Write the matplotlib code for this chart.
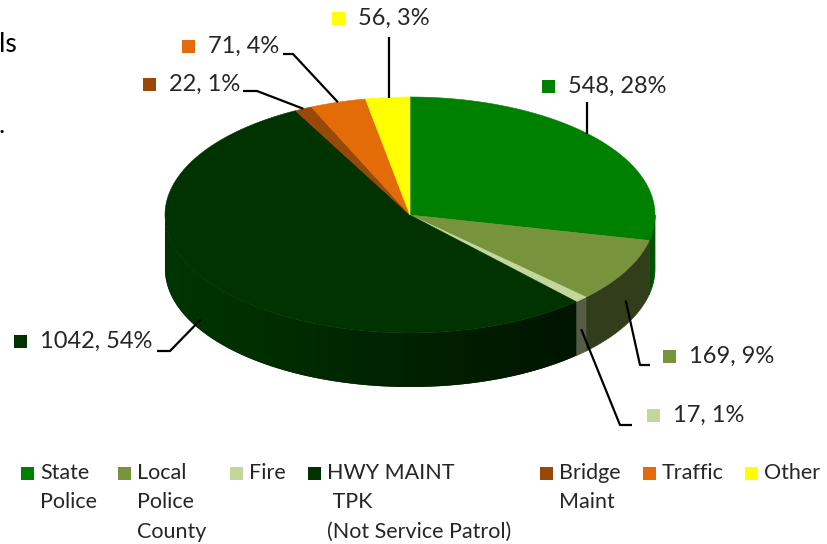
import numpy as np
import matplotlib.pyplot as plt
from matplotlib.patches import Polygon, Rectangle
from matplotlib.colors import to_rgb

# data
categories = ["State Police", "Local Police County", "Fire", "HWY MAINT TPK (Not Service Patrol)",
              "Bridge Maint", "Traffic", "Other"]
legend_lines = [["State", "Police"], ["Local", "Police", "County"], ["Fire"],
                ["HWY MAINT", " TPK", "(Not Service Patrol)"], ["Bridge", "Maint"],
                ["Traffic"], ["Other"]]
values = [548, 169, 17, 1042, 22, 71, 56]
top_colors = ["#008000", "#77933C", "#C3D69B", "#003300", "#984807", "#E36C09", "#FFFF00"]
side_colors = ["#005200", "#323E1B", "#555E45", "#002700", "#5E2C04", "#8C4205", "#9E9E00"]

plt.rcParams['font.family'] = ['Lato', 'DejaVu Sans']
txt_color = "#262626"

fig = plt.figure(figsize=(8.27, 5.44), dpi=100)
ax = fig.add_axes([0, 0, 1, 1])
ax.set_xlim(0, 827)
ax.set_ylim(544, 0)
ax.axis("off")

# pie geometry (pixel coords)
cx, cy, a, b, depth = 410, 215, 245, 118, 54


def ept(t):
    r = np.radians(t)
    return cx + a * np.cos(r), cy - b * np.sin(r)


total = sum(values)
fr = np.array(values) / total
cum = np.concatenate([[0], np.cumsum(fr)])
starts = 90 - cum[:-1] * 360
ends = 90 - cum[1:] * 360

# side walls (front half only)
for i in range(len(values)):
    t0, t1 = min(starts[i], 0), max(ends[i], -180)
    if t0 <= t1:
        continue
    ts = np.linspace(t1, t0, 120)
    xs, ys = ept(ts)
    pts = list(zip(xs, ys)) + list(zip(xs[::-1], ys[::-1] + depth))
    if i == 3:
        # horizontal shading on the big wedge's wall
        poly = Polygon(pts, closed=True, fc=side_colors[i], ec="none", zorder=1)
        ax.add_patch(poly)
        x0, x1 = xs.min() - 2, xs.max() + 2
        gx = np.linspace(0, 1, 300)
        c1 = np.array(to_rgb("#003500"))
        c2 = np.array(to_rgb("#001400"))
        f = gx ** 1.1
        grad = c1[None, :] + (c2 - c1)[None, :] * f[:, None]
        img = np.repeat(grad[None, :, :], 2, axis=0)
        im = ax.imshow(img, extent=(x0, x1, ys.max() + depth + 2, ys.min() - 2),
                       aspect="auto", zorder=1.5, interpolation="bilinear")
        im.set_clip_path(poly)
    else:
        ax.add_patch(Polygon(pts, closed=True, fc=side_colors[i], ec=side_colors[i],
                             lw=0.5, zorder=1))

# top faces
for i in range(len(values)):
    ts = np.linspace(starts[i], ends[i], 200)
    xs, ys = ept(ts)
    pts = [(cx, cy)] + list(zip(xs, ys))
    ax.add_patch(Polygon(pts, closed=True, fc=top_colors[i], ec=top_colors[i], lw=0.4, zorder=2))

ax.set_xlim(0, 827)
ax.set_ylim(544, 0)

# data labels
lab_pos = [(542, 86), (663, 356), (647, 415), (14, 341), (143, 84), (182, 46), (332, 18)]
lead_start = [(587, 102), (650, 365), (632, 425), (157, 351), (243, 91), (283, 54), (389, 37)]
lead_elbow = [None, (640, 365), (620, 425), (170, 351), (257, 91), (293, 54), None]
sq = 13
for i in range(len(values)):
    mid = (starts[i] + ends[i]) / 2
    px, py = ept(mid)
    if -180 < mid < 0:
        py += depth * 0.55
    if i == 3:
        px, py = ept(mid - 4)
        py += depth * 0.8
    if i in (0, 6):
        px = lead_start[i][0]
        py = cy - b * np.sqrt(max(0, 1 - ((px - cx) / a) ** 2)) + 1
    path = [lead_start[i]]
    if lead_elbow[i] is not None:
        path.append(lead_elbow[i])
    path.append((px, py))
    xs, ys = zip(*path)
    ax.plot(xs, ys, color="black", lw=1.6, zorder=3, solid_capstyle="butt")
    lx, ly = lab_pos[i]
    ax.add_patch(Rectangle((lx, ly - sq / 2), sq, sq, fc=top_colors[i], ec="none", zorder=4))
    pct = int(round(fr[i] * 100))
    ax.text(lx + sq + 13, ly, f"{values[i]}, {pct}%", fontsize=17, color=txt_color,
            va="center", ha="left", zorder=4)

# legend
leg_x = [21, 118, 230, 308, 540, 643, 745]
leg_y, line_h = 473, 29.5
for i in range(len(values)):
    ax.add_patch(Rectangle((leg_x[i], leg_y - 6.5), 13, 13, fc=top_colors[i], ec="none"))
    for j, line in enumerate(legend_lines[i]):
        ax.text(leg_x[i] + 19, leg_y + j * line_h, line, fontsize=15.5, color=txt_color,
                va="center", ha="left")

# cut-off title remnants at the left edge
ax.text(-1, 52, "ls", fontsize=19, color="black", va="baseline", ha="left")
ax.text(-1, 133, ".", fontsize=19, color="black", va="baseline", ha="left")

fig.savefig("out.png", dpi=100)
